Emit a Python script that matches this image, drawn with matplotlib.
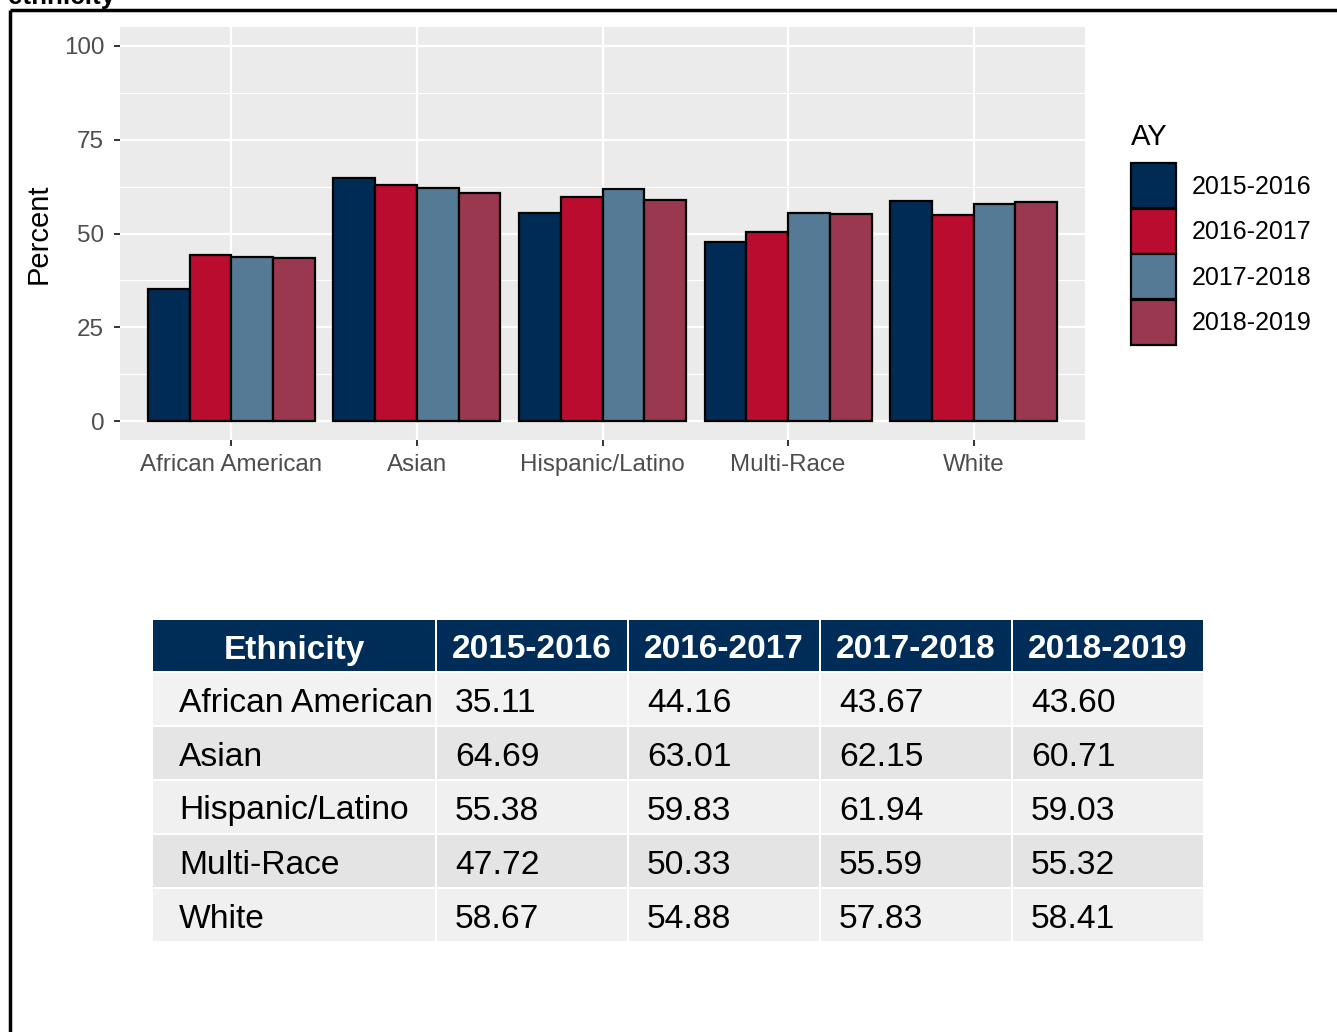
import matplotlib
matplotlib.use("Agg")
import matplotlib.pyplot as plt
from matplotlib.patches import Patch, Rectangle
import numpy as np

plt.rcParams['font.family'] = ['Liberation Sans', 'DejaVu Sans']

categories = ["African American", "Asian", "Hispanic/Latino", "Multi-Race", "White"]
years = ["2015-2016", "2016-2017", "2017-2018", "2018-2019"]
v2015 = [35.11, 64.69, 55.38, 47.72, 58.67]
v2016 = [44.16, 63.01, 59.83, 50.33, 54.88]
v2017 = [43.67, 62.15, 61.94, 55.59, 57.83]
v2018 = [43.60, 60.71, 59.03, 55.32, 58.41]
series = [v2015, v2016, v2017, v2018]
colors = ["#002B55", "#BA0C2F", "#557A95", "#9A3850"]
yticks = [0, 25, 50, 75, 100]

W, H = 1337, 1032
fig = plt.figure(figsize=(W / 100, H / 100), dpi=100)

# full-figure pixel axes for frame, title fragment and table
bg = fig.add_axes([0, 0, 1, 1])
bg.set_xlim(0, W)
bg.set_ylim(H, 0)
bg.axis("off")
bg.plot([10, 10], [10, H], color="black", lw=2.5, solid_capstyle="butt")
bg.plot([10, W], [10, 10], color="black", lw=2.5, solid_capstyle="butt")
bg.text(8, 4, "ethnicity", fontsize=18.7, fontweight="bold", va="baseline", ha="left")

def fx(px):
    return px / W

def fy(py):
    return 1 - py / H

# bar chart panel
L, R, T, B = 120, 1085, 27, 440
ax = fig.add_axes([fx(L), fy(B), fx(R - L), fy(T) - fy(B)])
ax.set_facecolor("#EBEBEB")
x = np.arange(len(categories)) + 1
bw = 0.9 / len(series)
for i, (vals, c, yr) in enumerate(zip(series, colors, years)):
    off = (i - (len(series) - 1) / 2) * bw
    ax.bar(x + off, vals, width=bw, color=c, edgecolor="black", linewidth=1.6, label=yr, zorder=3)

ax.set_xlim(0.4, len(categories) + 0.6)
ax.set_ylim(-5, 105)
ax.set_xticks(x)
ax.set_xticklabels(categories)
ax.set_yticks(yticks)
ax.set_yticklabels([str(t) for t in yticks])
ax.set_yticks([12.5, 37.5, 62.5, 87.5], minor=True)
ax.grid(True, which="major", color="white", lw=1.6, zorder=0)
ax.grid(True, which="minor", axis="y", color="white", lw=0.8, zorder=0)
ax.set_axisbelow(True)
for s in ax.spines.values():
    s.set_visible(False)
ax.tick_params(axis="both", which="major", length=4.5, width=1.4, color="#333333",
               labelsize=17.4, labelcolor="#4D4D4D")
ax.tick_params(axis="x", pad=5.5)
ax.tick_params(axis="y", pad=7)
ax.tick_params(which="minor", length=0)
ax.set_ylabel("Percent", fontsize=21, color="black", labelpad=8)

handles = [Patch(facecolor=c, edgecolor="black", linewidth=1.6) for c in colors]
leg = fig.legend(handles, years, title="AY", loc="upper left",
                 bbox_to_anchor=(fx(1131), fy(123)), frameon=False,
                 fontsize=18, title_fontsize=21, handlelength=1.8, handleheight=2.39,
                 labelspacing=0.02, handletextpad=0.62, borderpad=0, borderaxespad=0,
                 alignment="left")
leg._legend_box.sep = 9.0

# table
header = ["Ethnicity"] + years
col_edges = [152, 436, 628, 820, 1012, 1204]
row_edges = [620, 672, 726, 780, 834, 888, 942]
navy = "#002D57"
row_colors = ["#F2F2F2", "#E5E5E5", "#F0F0F0", "#E4E4E4", "#F0F0F0"]
gap = 1.0
for j in range(len(header)):
    x0, x1 = col_edges[j], col_edges[j + 1]
    y0, y1 = row_edges[0], row_edges[1]
    bg.add_patch(Rectangle((x0 + gap, y0), x1 - x0 - 2 * gap, y1 - y0 - gap,
                           facecolor=navy, edgecolor="none"))
    bg.text((x0 + x1) / 2, (y0 + y1) / 2 + 4, header[j], color="white", fontsize=24,
            fontweight="bold", ha="center", va="center")
for i, cat in enumerate(categories):
    y0, y1 = row_edges[i + 1], row_edges[i + 2]
    cells = [cat] + ["%.2f" % s[i] for s in series]
    for j, txt in enumerate(cells):
        x0, x1 = col_edges[j], col_edges[j + 1]
        bg.add_patch(Rectangle((x0 + gap, y0 + gap), x1 - x0 - 2 * gap, y1 - y0 - 2 * gap,
                               facecolor=row_colors[i], edgecolor="none"))
        tx = x0 + (27 if j == 0 else 19)
        bg.text(tx, (y0 + y1) / 2 + 4, txt, color="black", fontsize=24.2,
                ha="left", va="center")

fig.savefig("out.png", dpi=100)
